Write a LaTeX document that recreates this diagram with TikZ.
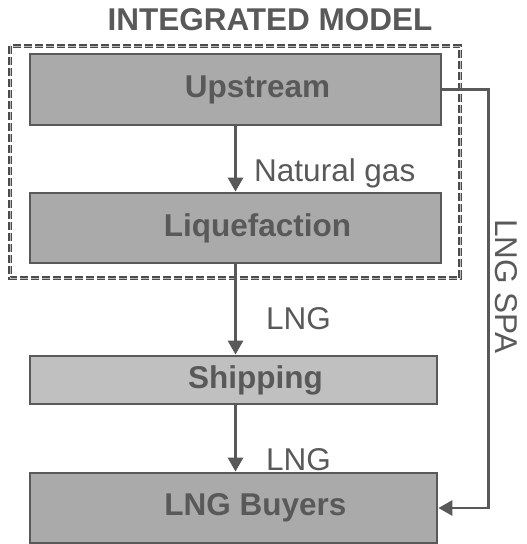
\documentclass[tikz,border=0pt]{standalone}
\usepackage{fontspec}
\setmainfont{Liberation Sans}
\usetikzlibrary{arrows.meta}
\definecolor{linegray}{RGB}{89,89,89}
\definecolor{boxgray}{RGB}{170,170,170}
\definecolor{shipgray}{RGB}{192,192,192}
\definecolor{dashgray}{RGB}{185,185,185}
\newcommand{\bigfont}{\fontsize{31.5}{36}\selectfont}

\begin{document}
\begin{tikzpicture}[x=1pt,y=-1pt,>={Triangle[width=15pt,length=14pt]},
    every node/.style={font=\bigfont, text=linegray},
    stage/.style={draw=linegray, line width=2.8pt, inner sep=0pt},
    flow/.style={draw=linegray, line width=2.8pt},
    frame/.style={draw=linegray!85!black, line width=1.1pt, double=dashgray, double distance=0.9pt, dash pattern=on 8pt off 3pt}]
    \useasboundingbox (0,0) rectangle (527,544);
    % title of the integrated part
    \node[font=\bigfont\bfseries] (title) at (270,20) {INTEGRATED MODEL};
    % the stages of the chain
    \foreach \n/\y/\w/\h/\c/\t in {up/89.5/411/71/boxgray/Upstream,
        liq/228/411/70/boxgray/Liquefaction,
        ship/380/407/48/shipgray/Shipping,
        buy/508/407/70/boxgray/LNG Buyers}
    {
        \node[stage, fill=\c, minimum width=\w, minimum height=\h,
              label={[xshift=22pt, font=\bigfont\bfseries]center:\t}] (\n) at (30+\w/2,\y) {};
    };
    % dashed frame round the integrated model
    \draw[frame] (10,46) rectangle (460,278);
    % flows down the chain
    \draw[flow,->] (up) -- node[pos=0.84, anchor=base west, xshift=14pt] (gas) {Natural gas} (liq);
    \draw[flow,->] (liq.south) -- node[pos=0.72, anchor=base west, xshift=26pt] (lng1) {LNG} (liq.south |- ship.north);
    \draw[flow,->] (liq.south |- ship.south) -- node[pos=0.985, anchor=base west, xshift=26pt] (lng2) {LNG} (liq.south |- buy.north);
    % the sales contract
    \draw[flow,->] (up.east) -- ++(46,0) |- node[pos=0.235, xshift=18pt, rotate=-90] (spa) {LNG SPA} (buy.east);
\end{tikzpicture}
\end{document}
